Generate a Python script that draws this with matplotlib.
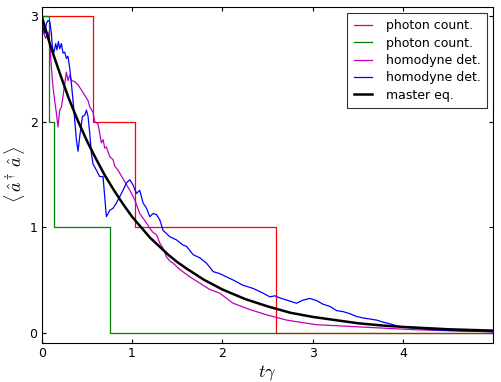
import numpy as np
import matplotlib
matplotlib.use('Agg')
import matplotlib.pyplot as plt

plt.rcParams['mathtext.fontset'] = 'cm'
plt.rcParams['font.size'] = 9

# photon counting trajectories: jump times and photon numbers
t_red = [0.0, 0.568, 1.03, 2.59, 5.0]
n_red = [3, 2, 1, 0, 0]
t_green = [0.0, 0.08, 0.137, 0.753, 5.0]
n_green = [3, 2, 1, 0, 0]

# homodyne detection trajectories
t_mag = [0.0, 0.022, 0.044, 0.07, 0.089, 0.107, 0.125, 0.144, 0.163, 0.18,
         0.2, 0.218, 0.236, 0.255, 0.273, 0.291, 0.31, 0.329, 0.365, 0.402,
         0.44, 0.476, 0.513, 0.532, 0.568, 0.587, 0.623, 0.661, 0.679, 0.698,
         0.716, 0.753, 0.79, 0.808, 0.845, 0.9, 0.975, 1.03, 1.085, 1.16,
         1.196, 1.233, 1.27, 1.307, 1.343, 1.381, 1.417, 1.454, 1.528, 1.639,
         1.75, 1.86, 1.971, 2.118, 2.303, 2.488, 2.71, 2.857, 3.042, 3.411,
         3.776, 4.15, 4.518, 5.0]
n_mag = [3.0, 2.84, 2.79, 2.85, 2.74, 2.52, 2.33, 2.2, 2.08, 1.95,
         2.11, 2.14, 2.24, 2.36, 2.47, 2.39, 2.44, 2.39, 2.38, 2.35,
         2.30, 2.25, 2.2, 2.14, 2.09, 2.0, 1.98, 1.80, 1.83, 1.75,
         1.76, 1.67, 1.64, 1.58, 1.54, 1.46, 1.35, 1.26, 1.13, 1.04,
         0.99, 0.95, 0.93, 0.85, 0.80, 0.72, 0.68, 0.66, 0.60, 0.53,
         0.47, 0.41, 0.375, 0.28, 0.22, 0.17, 0.12, 0.10, 0.076, 0.06,
         0.044, 0.028, 0.019, 0.01]

t_blue = [0.0, 0.014, 0.033, 0.052, 0.07, 0.089, 0.107, 0.118, 0.133, 0.155,
          0.169, 0.185, 0.2, 0.218, 0.236, 0.255, 0.273, 0.291, 0.31, 0.329,
          0.347, 0.365, 0.384, 0.402, 0.421, 0.451, 0.476, 0.495, 0.513, 0.532,
          0.55, 0.568, 0.606, 0.642, 0.679, 0.716, 0.753, 0.79, 0.827, 0.864,
          0.9, 0.938, 0.975, 1.011, 1.049, 1.085, 1.122, 1.16, 1.196, 1.233,
          1.27, 1.307, 1.343, 1.381, 1.417, 1.492, 1.565, 1.602, 1.676, 1.75,
          1.824, 1.897, 1.971, 2.045, 2.118, 2.229, 2.34, 2.451, 2.525, 2.58,
          2.636, 2.71, 2.82, 2.894, 2.968, 3.042, 3.115, 3.189, 3.263, 3.337,
          3.411, 3.485, 3.558, 3.632, 3.707, 3.78, 3.854, 3.928, 4.001, 4.112,
          4.333, 4.592, 5.0]
n_blue = [3.0, 2.9, 2.84, 2.93, 2.96, 2.95, 2.84, 2.71, 2.65, 2.74,
          2.68, 2.76, 2.69, 2.74, 2.65, 2.66, 2.6, 2.62, 2.51, 2.36,
          2.2, 2.02, 1.83, 1.72, 1.86, 2.05, 2.06, 2.11, 2.05, 1.89,
          1.7, 1.6, 1.54, 1.48, 1.48, 1.10, 1.16, 1.18, 1.23, 1.29,
          1.35, 1.42, 1.45, 1.40, 1.32, 1.35, 1.23, 1.18, 1.1, 1.13,
          1.12, 1.07, 0.97, 0.94, 0.91, 0.88, 0.83, 0.82, 0.74, 0.71,
          0.66, 0.58, 0.56, 0.53, 0.50, 0.45, 0.42, 0.375, 0.34, 0.35,
          0.33, 0.31, 0.28, 0.31, 0.325, 0.305, 0.27, 0.25, 0.21, 0.20,
          0.18, 0.154, 0.14, 0.13, 0.12, 0.10, 0.085, 0.066, 0.054, 0.044,
          0.028, 0.019, 0.009]

# master equation curve
t_me = [0.0, 0.1, 0.2, 0.3, 0.4, 0.5, 0.6, 0.7, 0.8, 0.9, 1.0, 1.1, 1.2, 1.3,
        1.4, 1.5, 1.6, 1.8, 2.0, 2.25, 2.5, 2.75, 3.0, 3.25, 3.5, 3.75, 4.0,
        4.5, 5.0]
n_me = [3.0, 2.71, 2.46, 2.22, 2.01, 1.82, 1.65, 1.49, 1.35, 1.22, 1.10, 1.0,
        0.90, 0.82, 0.74, 0.67, 0.61, 0.50, 0.41, 0.32, 0.25, 0.19, 0.15,
        0.12, 0.09, 0.07, 0.055, 0.033, 0.02]

fig = plt.figure(figsize=(5.01, 3.82), dpi=100)
ax = fig.add_axes([0.0832, 0.1013, 0.9018, 0.8812])

ax.step(t_red, n_red, where='post', color='r', lw=0.9, label='photon count.')
ax.step(t_green, n_green, where='post', color='g', lw=0.9, label='photon count.')
ax.plot(t_mag, n_mag, color='m', lw=0.9, label='homodyne det.')
ax.plot(t_blue, n_blue, color='b', lw=0.9, label='homodyne det.')
ax.plot(t_me, n_me, color='k', lw=1.8, label='master eq.')

ax.set_xlim(0, 5)
ax.set_ylim(-0.1, 3.09)
ax.set_xticks([0, 1, 2, 3, 4])
ax.set_yticks([0, 1, 2, 3])
ax.tick_params(direction='in', top=True, right=True, length=3, width=0.8, pad=3)
for s in ax.spines.values():
    s.set_linewidth(0.8)

ax.set_xlabel(r'$t\gamma$', fontsize=13, labelpad=2)
ax.set_ylabel(r'$\langle\,\hat{a}^\dagger\,\hat{a}\,\rangle$', fontsize=13, labelpad=2)

leg = ax.legend(loc='upper right', fontsize=9, handlelength=1.5, handletextpad=1.1,
                labelspacing=0.35, borderpad=0.5, borderaxespad=0.5, fancybox=False)
leg.get_frame().set_edgecolor('k')
leg.get_frame().set_linewidth(0.8)

fig.savefig('out.png', dpi=100)
